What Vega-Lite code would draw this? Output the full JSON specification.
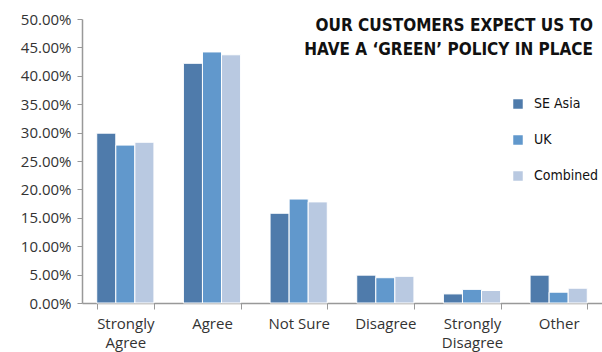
{
  "$schema": "https://vega.github.io/schema/vega-lite/v6.json",
  "width": 520,
  "height": 284,
  "autosize": "none",
  "padding": {"left": 82, "top": 19, "right": 0, "bottom": 49},
  "background": "white",
  "title": {
    "text": ["OUR CUSTOMERS EXPECT US TO", "HAVE A ‘GREEN’ POLICY IN PLACE"],
    "anchor": "end",
    "frame": "group",
    "orient": "top",
    "offset": -47,
    "dx": -9,
    "font": "DejaVu Sans Condensed",
    "fontWeight": "bold",
    "fontSize": 17,
    "lineHeight": 24,
    "color": "#111111"
  },
  "data": {
    "values": [
      {"response": "Strongly Agree", "group": "SE Asia", "value": 29.9},
      {"response": "Strongly Agree", "group": "UK", "value": 27.8},
      {"response": "Strongly Agree", "group": "Combined", "value": 28.3},
      {"response": "Agree", "group": "SE Asia", "value": 42.2},
      {"response": "Agree", "group": "UK", "value": 44.2},
      {"response": "Agree", "group": "Combined", "value": 43.7},
      {"response": "Not Sure", "group": "SE Asia", "value": 15.8},
      {"response": "Not Sure", "group": "UK", "value": 18.3},
      {"response": "Not Sure", "group": "Combined", "value": 17.8},
      {"response": "Disagree", "group": "SE Asia", "value": 4.9},
      {"response": "Disagree", "group": "UK", "value": 4.45},
      {"response": "Disagree", "group": "Combined", "value": 4.7},
      {"response": "Strongly Disagree", "group": "SE Asia", "value": 1.6},
      {"response": "Strongly Disagree", "group": "UK", "value": 2.4},
      {"response": "Strongly Disagree", "group": "Combined", "value": 2.2},
      {"response": "Other", "group": "SE Asia", "value": 4.9},
      {"response": "Other", "group": "UK", "value": 1.9},
      {"response": "Other", "group": "Combined", "value": 2.6}
    ]
  },
  "mark": {"type": "bar", "stroke": "white", "strokeWidth": 1},
  "encoding": {
    "x": {
      "field": "response",
      "type": "nominal",
      "sort": ["Strongly Agree", "Agree", "Not Sure", "Disagree", "Strongly Disagree", "Other"],
      "scale": {"paddingInner": 0.34, "paddingOuter": 0.17},
      "axis": {
        "title": null,
        "labelAngle": 0,
        "tickBand": "extent",
        "tickSize": 6,
        "tickColor": "#999999",
        "domainColor": "#999999",
        "domainWidth": 1.5,
        "labelFont": "Open Sans",
        "labelFontSize": 15,
        "labelColor": "#333333",
        "labelPadding": 7,
        "labelLineHeight": 19,
        "labelExpr": "datum.label == 'Strongly Agree' ? ['Strongly', 'Agree'] : datum.label == 'Strongly Disagree' ? ['Strongly', 'Disagree'] : datum.label"
      }
    },
    "xOffset": {
      "field": "group",
      "type": "nominal",
      "sort": ["SE Asia", "UK", "Combined"]
    },
    "y": {
      "field": "value",
      "type": "quantitative",
      "scale": {"domain": [0, 50], "nice": false},
      "axis": {
        "title": null,
        "grid": false,
        "values": [0, 5, 10, 15, 20, 25, 30, 35, 40, 45, 50],
        "labelExpr": "format(datum.value, '.2f') + '%'",
        "tickSize": 5,
        "tickColor": "#999999",
        "domainColor": "#999999",
        "domainWidth": 1.5,
        "labelFont": "Open Sans",
        "labelFontSize": 15,
        "labelColor": "#333333",
        "labelPadding": 6
      }
    },
    "color": {
      "field": "group",
      "type": "nominal",
      "sort": ["SE Asia", "UK", "Combined"],
      "scale": {"domain": ["SE Asia", "UK", "Combined"], "range": ["#4f7bab", "#6198cc", "#b9c9e1"]},
      "legend": {
        "title": null,
        "orient": "none",
        "legendX": 429,
        "legendY": 78,
        "symbolType": "square",
        "symbolSize": 90,
        "symbolStrokeWidth": 0,
        "labelFont": "DejaVu Sans Condensed",
        "labelFontSize": 14,
        "labelColor": "#111111",
        "labelOffset": 9,
        "rowPadding": 22
      }
    }
  },
  "config": {"view": {"stroke": null}}
}
